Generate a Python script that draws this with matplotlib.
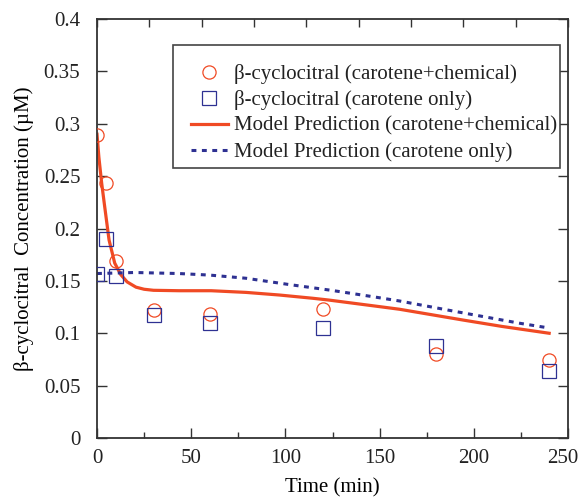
import numpy as np
import matplotlib
matplotlib.use("Agg")
import matplotlib.pyplot as plt
import matplotlib.transforms as mtrans
from matplotlib.patches import Rectangle

plt.rcParams["font.family"] = ["Liberation Serif", "DejaVu Serif"]
plt.rcParams["font.size"] = 15
plt.rcParams["text.color"] = "#222222"
plt.rcParams["xtick.labelcolor"] = "#222222"
plt.rcParams["ytick.labelcolor"] = "#222222"

# measured data
t_meas = [0, 5, 10, 30, 60, 120, 180, 240]
chem_meas = [0.289, 0.243, 0.169, 0.122, 0.118, 0.123, 0.080, 0.074]
only_meas = [0.157, 0.190, 0.155, 0.117, 0.110, 0.105, 0.088, 0.064]

# model predictions
t_chem = [0, 1, 2.5, 4, 6.4, 9.4, 12.6, 16, 20.7, 25, 30, 43.6, 60.6, 79.1, 96.8,
          114.5, 123, 150, 160.6, 194.3, 215, 240]
chem_model = [0.290, 0.268, 0.243, 0.222, 0.189, 0.167, 0.156, 0.149, 0.144, 0.142,
              0.141, 0.1406, 0.1406, 0.139, 0.1365, 0.1334, 0.1317, 0.1254, 0.1229,
              0.1126, 0.1065, 0.100]
t_only = [0, 20, 43.6, 60, 79.1, 101.2, 124.3, 146.4, 160.6, 190.8, 224.5, 240]
only_model = [0.157, 0.158, 0.157, 0.1555, 0.1525, 0.1467, 0.141, 0.1349, 0.1308,
              0.1206, 0.1095, 0.105]

red = "#f04a24"
blue = "#2e3192"

fig = plt.figure(figsize=(5.82, 4.99), dpi=100)
ax = fig.add_axes([97 / 582, 61 / 499, 471 / 582, 419 / 499])

ax.plot(t_meas, chem_meas, "o", ms=9.5, mfc="none", mec=red, mew=0.9,
        label="β-cyclocitral (carotene+chemical)", zorder=3)
ax.plot(t_meas, only_meas, "s", ms=10, mfc="none", mec=blue, mew=0.9,
        label="β-cyclocitral (carotene only)", zorder=3)
ax.plot(t_chem, chem_model, "-", color=red, lw=2.3,
        label="Model Prediction (carotene+chemical)")
ax.plot(t_only, only_model, color=blue, lw=2.2, linestyle=(0, (1.6, 1.8)),
        label="Model Prediction (carotene only)")

ax.set_xlim(0, 250)
ax.set_ylim(0, 0.4)
ax.set_xticks([0, 50, 100, 150, 200, 250])
ax.set_xticks(np.arange(25, 250, 50), minor=True)
ax.set_yticks(np.arange(0, 0.401, 0.05))
ax.set_yticklabels(["0", "0.05", "0.1", "0.15", "0.2", "0.25", "0.3", "0.35", "0.4"])
ax.tick_params(axis="y", which="major", direction="in", length=7, width=1,
               color="#333333", pad=12, right=True)
ax.tick_params(axis="x", which="major", direction="in", length=7, width=1,
               color="#333333", pad=8)
ax.tick_params(axis="x", which="minor", direction="in", length=4, width=1,
               color="#333333")
for s in ax.spines.values():
    s.set_color("#333333")
    s.set_linewidth(1.3)

# nudge the last x label so it stays inside the figure
last = ax.get_xticklabels()[-1]
last.set_transform(last.get_transform() +
                   mtrans.ScaledTranslation(-5 / 100, 0, fig.dpi_scale_trans))

top = ax.twiny()
top.set_xlim(0, 250)
top.set_xticks(np.linspace(0, 250, 10))
top.tick_params(axis="x", direction="in", length=6, width=1, color="#333333",
                labeltop=False)
for s in top.spines.values():
    s.set_visible(False)

ax.set_xlabel("Time (min)", labelpad=7)
ax.set_ylabel("β-cyclocitral  Concentration (µM)", labelpad=7)

# legend frame drawn separately (text sits close to its right edge)
ax.add_patch(Rectangle((0.161, 0.644), 0.822, 0.294, transform=ax.transAxes,
                       fill=True, facecolor="white", edgecolor="#444444",
                       lw=1.2, zorder=4))
leg = ax.legend(loc="upper left", bbox_to_anchor=(0.2, 0.893), borderaxespad=0,
                frameon=False, handlelength=1.75, handletextpad=0.3,
                labelspacing=0.3, borderpad=0, fontsize=15)
leg.set_zorder(5)

fig.savefig("out.png", dpi=100)
